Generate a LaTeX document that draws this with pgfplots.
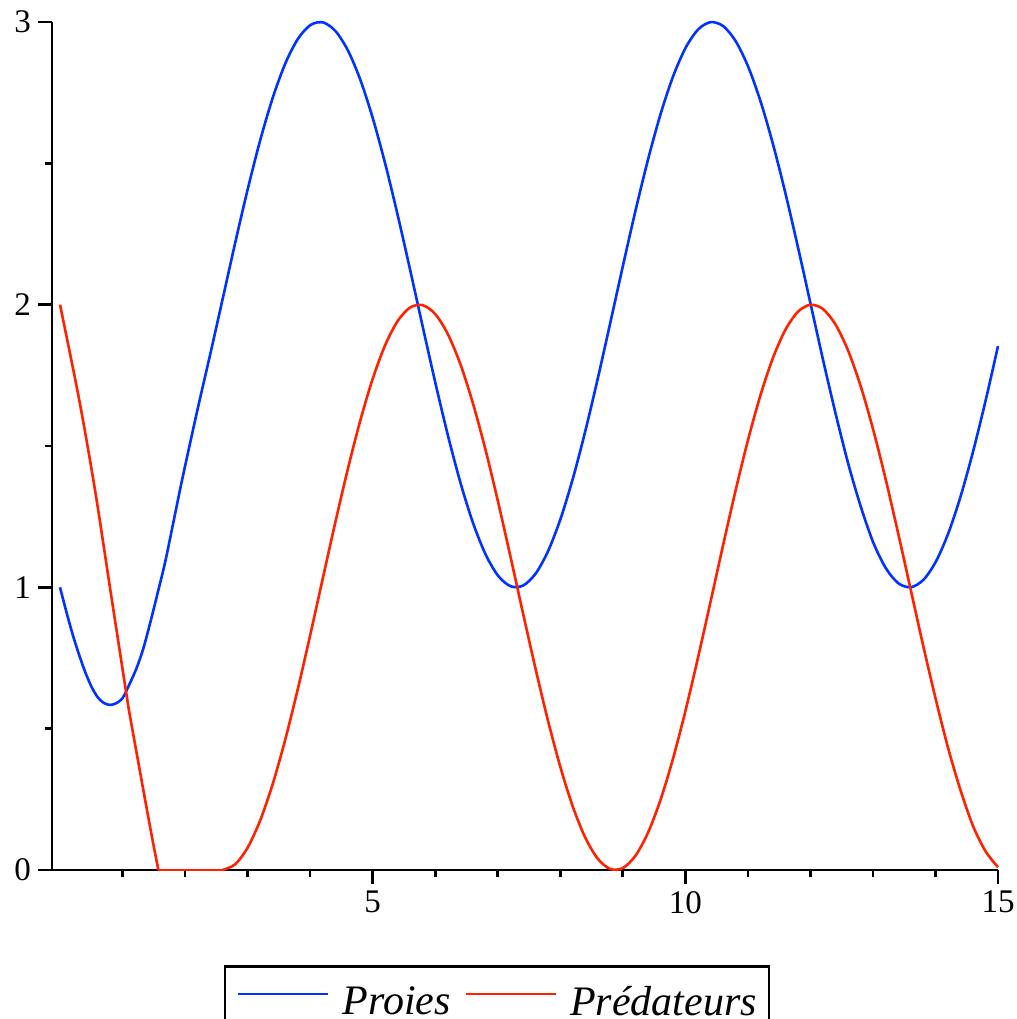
\documentclass[border=0pt]{standalone}
\usepackage{fontspec}
\setmainfont{Liberation Serif}
\usepackage{pgfplots}
\pgfplotsset{compat=1.18}
\definecolor{proie}{RGB}{0,51,255}
\definecolor{preda}{RGB}{255,34,0}
\begin{document}
\begin{tikzpicture}
\useasboundingbox (-26pt,-74.5pt) rectangle (482.5pt,435pt);
\begin{axis}[
  at={(0,0)}, anchor=south west,
  scale only axis, width=473pt, height=424pt,
  xmin=-0.128, xmax=15, ymin=0, ymax=3,
  axis lines=left,
  axis line style={-, line width=1.35pt, black},
  clip=false,
  xtick={5,10,15},
  minor xtick={1,2,3,4,6,7,8,9,11,12,13,14},
  ytick={0,1,2,3},
  minor ytick={0.5,1.5,2.5},
  tick align=outside,
  major tick length=7pt,
  minor tick length=3.5pt,
  every tick/.style={line width=1.35pt, black},
  /pgf/number format/assume math mode=true,
  tick label style={font=\fontsize{16.5}{20}\selectfont},
  legend columns=2,
  legend image code/.code={\draw[#1] (0pt,0.42em) -- (45pt,0.42em);},
  legend style={at={(0.4704,-0.112)}, anchor=north, draw=black, line width=1.35pt,
    inner xsep=6pt, inner ysep=10pt,
    font=\fontsize{21}{24}\selectfont\itshape,
    nodes={inner sep=0pt},
    /tikz/every odd column/.append style={column sep=6.5pt},
    /tikz/every even column/.append style={column sep=7pt}},
]
\addplot[proie, line width=1.3pt, smooth] coordinates {
(0,1.000) (0.1,0.915) (0.2,0.835) (0.3,0.765) (0.4,0.702) (0.5,0.650)
(0.6,0.612) (0.7,0.591) (0.8,0.584) (0.9,0.590) (1.0,0.608) (1.1,0.652)
(1.2,0.701) (1.253,0.731) (1.33,0.782) (1.413,0.849) (1.547,0.967)
(1.68,1.088) (1.813,1.230) (1.957,1.385) (2.2,1.630) (2.41,1.832)
(2.61,2.0292) (2.81,2.2272) (3.01,2.4161) (3.21,2.5885) (3.41,2.7374)
(3.61,2.8569) (3.81,2.9422) (4.01,2.9900) (4.21,2.9983) (4.41,2.9668)
(4.61,2.8968) (4.81,2.7910) (5.01,2.6536) (5.21,2.4903) (5.41,2.3073)
(5.61,2.1122) (5.81,1.9125) (6.01,1.7163) (6.21,1.5315) (6.41,1.3653)
(6.61,1.2244) (6.81,1.1145) (7.01,1.0398) (7.21,1.0035) (7.41,1.0068)
(7.61,1.0498) (7.81,1.1306) (8.01,1.2461) (8.21,1.3916) (8.41,1.5615)
(8.61,1.7487) (8.81,1.9460) (9.01,2.1455) (9.21,2.3392) (9.41,2.5193)
(9.61,2.6787) (9.81,2.8111) (10.01,2.9111) (10.21,2.9748) (10.41,2.9997)
(10.61,2.9847) (10.81,2.9304) (11.01,2.8391) (11.21,2.7143) (11.41,2.5610)
(11.61,2.3853) (11.81,2.1943) (12.01,1.9956) (12.21,1.7970) (12.41,1.6082)
(12.61,1.4331) (12.81,1.2826) (13.01,1.1561) (13.21,1.0664) (13.41,1.0138)
(13.61,1.0006) (13.81,1.0272) (14.01,1.0925) (14.21,1.1941) (14.41,1.3278)
(14.61,1.4880) (14.81,1.6684) (15.0,1.8535)
};
\addlegendentry{Proies}
\addplot[preda, line width=1.3pt, smooth] coordinates {
(0,2.000) (0.31,1.660) (0.56,1.344) (0.8,0.998) (1.056,0.631)
(1.13,0.531) (1.44,0.153) (1.573,0)
};
\addlegendentry{Prédateurs}
\addplot[preda, line width=1.3pt, forget plot] coordinates {
(1.573,0) (2.6,0)
};
\addplot[preda, line width=1.3pt, smooth, forget plot] coordinates {
(2.6,0) (2.8,0.0199) (3.0,0.0789) (3.2,0.1747) (3.4,0.3033) (3.6,0.4597)
(3.8,0.6376) (4.0,0.8300) (4.2,1.0292) (4.4,1.2272) (4.6,1.4161)
(4.8,1.5885) (5.0,1.7374) (5.2,1.8569) (5.4,1.9422) (5.6,1.9900)
(5.8,1.9983) (6.0,1.9668) (6.2,1.8968) (6.4,1.7910) (6.6,1.6536)
(6.8,1.4903) (7.0,1.3073) (7.2,1.1122) (7.4,0.9125) (7.6,0.7163)
(7.8,0.5315) (8.0,0.3653) (8.2,0.2244) (8.4,0.1145) (8.6,0.0398)
(8.8,0.0035) (9.0,0.0068) (9.2,0.0498) (9.4,0.1306) (9.6,0.2461)
(9.8,0.3916) (10.0,0.5615) (10.2,0.7487) (10.4,0.9460) (10.6,1.1455)
(10.8,1.3392) (11.0,1.5193) (11.2,1.6787) (11.4,1.8111) (11.6,1.9111)
(11.8,1.9748) (12.0,1.9997) (12.2,1.9847) (12.4,1.9304) (12.6,1.8391)
(12.8,1.7143) (13.0,1.5610) (13.2,1.3853) (13.4,1.1943) (13.6,0.9956)
(13.8,0.7970) (14.0,0.6082) (14.2,0.4331) (14.4,0.2826) (14.6,0.1561)
(14.8,0.0664) (15.0,0.0100)
};
\end{axis}
\end{tikzpicture}
\end{document}
